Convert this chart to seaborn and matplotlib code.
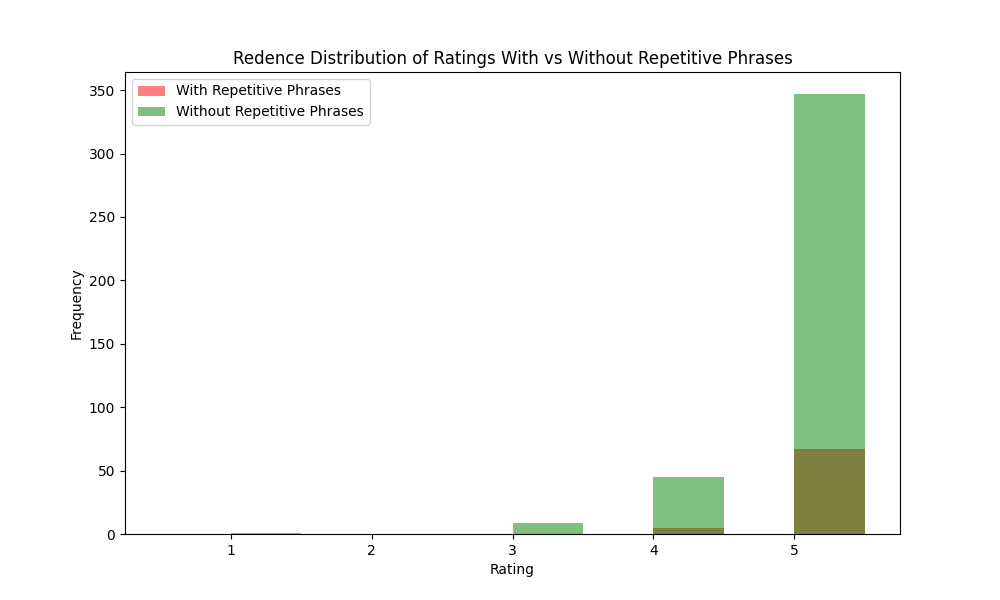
import numpy as np
import pandas as pd
import matplotlib
matplotlib.use("Agg")
import matplotlib.pyplot as plt
import seaborn as sns

ratings = [1, 2, 3, 4, 5]
with_counts = [0, 0, 0, 5, 67]
without_counts = [1, 0, 9, 45, 347]
bin_edges = [0.5, 1.0, 1.5, 2.0, 2.5, 3.0, 3.5, 4.0, 4.5, 5.0, 5.5]

fig, ax = plt.subplots(figsize=(10, 6), dpi=100)

sns.histplot(x=ratings, weights=with_counts, bins=bin_edges, color="red",
             alpha=0.5, linewidth=0, label="With Repetitive Phrases", ax=ax)
sns.histplot(x=ratings, weights=without_counts, bins=bin_edges, color="green",
             alpha=0.5, linewidth=0, label="Without Repetitive Phrases", ax=ax)

ax.set_title("Redence Distribution of Ratings With vs Without Repetitive Phrases")
ax.set_xlabel("Rating")
ax.set_ylabel("Frequency")
ax.set_xticks([1, 2, 3, 4, 5])
ax.legend(loc="upper left")

fig.savefig("out.png", dpi=100)
